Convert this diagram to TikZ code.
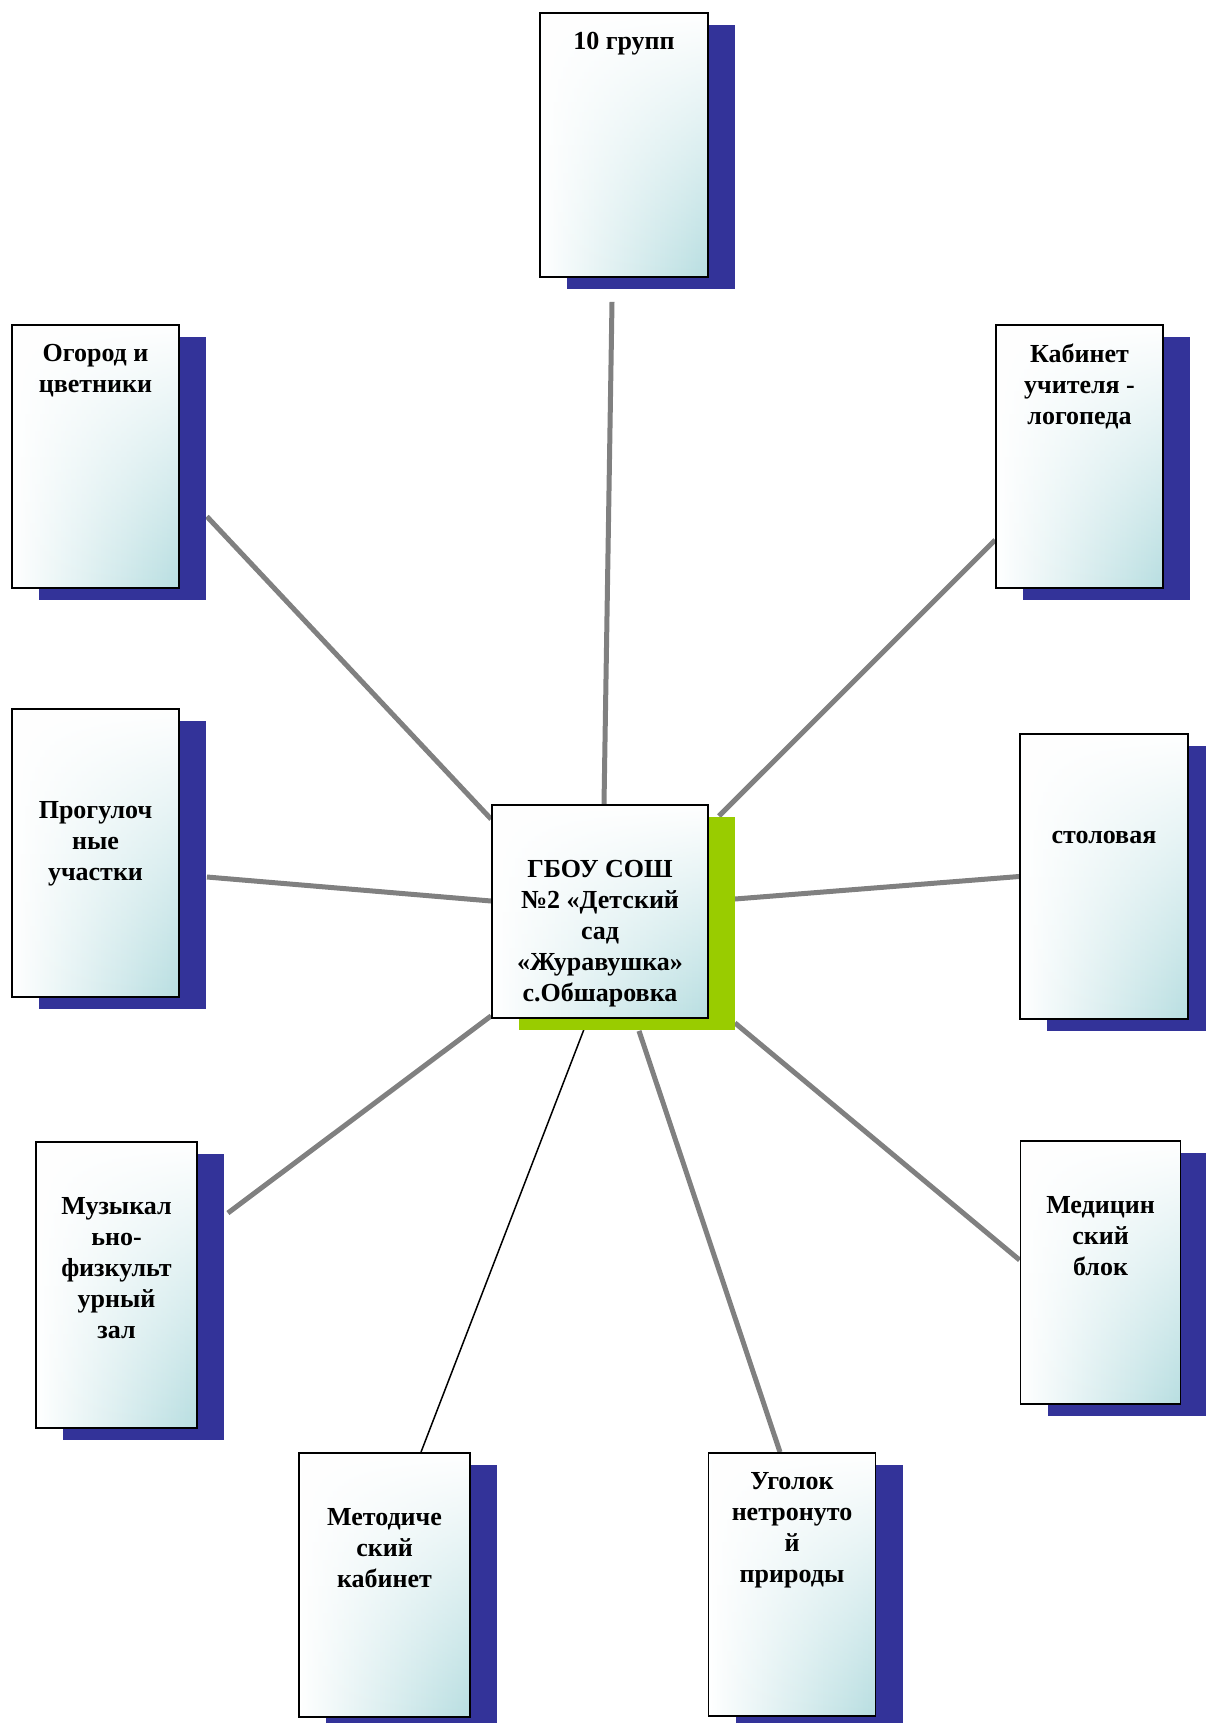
\documentclass[tikz,border=0pt]{standalone}
\usepackage{fontspec}
\setmainfont{Liberation Serif}
\usetikzlibrary{positioning,shadows,fadings,backgrounds}

\definecolor{shadowblue}{RGB}{51,51,153}
\definecolor{shadowgreen}{RGB}{153,204,0}
\definecolor{paleteal}{RGB}{184,222,225}
\definecolor{linkgray}{RGB}{128,128,128}

\tikzset{
  cardbase/.style={rectangle, draw=black, line width=1.8pt, inner sep=0pt,
    left color=white, right color=paleteal,
    path picture={\fill[white, path fading=south]
      (path picture bounding box.south west) rectangle (path picture bounding box.north east);}},
  card/.style={cardbase, general shadow={fill=shadowblue, shadow xshift=27pt, shadow yshift=-12pt}},
  hubcard/.style={cardbase, general shadow={fill=shadowgreen, shadow xshift=27pt, shadow yshift=-12pt}},
  cardtext/.style={align=center, inner sep=0pt, font=\fontsize{26}{31}\selectfont\bfseries},
  link/.style={draw=linkgray, line width=5pt},
  thinlink/.style={draw=black, line width=1.5pt}
}

\begin{document}
\begin{tikzpicture}[x=1pt,y=-1pt]
\useasboundingbox (0,0) rectangle (1205,1723);

% boxes
\node[hubcard, minimum width=216pt, minimum height=213pt] (hub) at (600,911.5) {};
\node[card, minimum width=168pt, minimum height=264pt] (g10) at (624,145) {};
\node[card, minimum width=167pt, minimum height=263pt] (ogorod) at (95.5,456.5) {};
\node[card, minimum width=167pt, minimum height=263pt] (logoped) at (1079.5,456.5) {};
\node[card, minimum width=167pt, minimum height=288pt] (progulki) at (95.5,853) {};
\node[card, minimum width=168pt, minimum height=285pt] (stolovaya) at (1104,876.5) {};
\node[card, minimum width=161pt, minimum height=286pt] (muzzal) at (116.5,1285) {};
\node[card, minimum width=160pt, minimum height=263pt] (medblok) at (1100.5,1272.5) {};
\node[card, minimum width=171pt, minimum height=264pt] (metod) at (384.5,1585) {};
\node[card, minimum width=167pt, minimum height=263pt] (ugolok) at (792,1584.5) {};

% texts
\node[cardtext, below=56pt of hub.north] (hubt) {ГБОУ СОШ\\№2 «Детский\\сад\\«Журавушка»\\с.Обшаровка};
\node[cardtext, below=20pt of g10.north] (g10t) {10 групп};
\node[cardtext, below=20pt of ogorod.north] (ogorodt) {Огород и\\цветники};
\node[cardtext, below=20pt of logoped.north] (logopedt) {Кабинет\\учителя -\\логопеда};
\node[cardtext, below=93pt of progulki.north] (progulkit) {Прогулоч\\ные\\участки};
\node[cardtext, below=98pt of stolovaya.north] (stolovayat) {столовая};
\node[cardtext, below=56pt of muzzal.north] (muzzalt) {Музыкал\\ьно-\\физкульт\\урный\\зал};
\node[cardtext, below=56pt of medblok.north] (medblokt) {Медицин\\ский\\блок};
\node[cardtext, below=56pt of metod.north] (metodt) {Методиче\\ский\\кабинет};
\node[cardtext, below=20pt of ugolok.north] (ugolokt) {Уголок\\нетронуто\\й\\природы};

% connectors
\begin{pgfonlayer}{background}
\draw[link] ([xshift=-12pt,yshift=-24pt]g10.south) -- ([xshift=4pt]hub.north);
\draw[link] ([xshift=27pt,yshift=-60pt]ogorod.east) -- ([yshift=-15pt]hub.north west);
\draw[link] ([yshift=-83.5pt]logoped.west) -- ([xshift=10pt,yshift=-12pt]hub.north east);
\draw[link] ([xshift=27pt,yshift=-24pt]progulki.east) -- ([yshift=10.5pt]hub.west);
\draw[link] (stolovaya.west) -- ([xshift=26pt,yshift=12.5pt]hub.east);
\draw[link] ([xshift=30pt,yshift=72pt]muzzal.east) -- ([yshift=3pt]hub.south west);
\draw[link] ([yshift=12.5pt]medblok.west) -- ([xshift=26pt,yshift=-4pt]hub.south east);
\draw[link] ([xshift=39pt,yshift=-12pt]hub.south) -- ([xshift=-12pt]ugolok.north);
\draw[thinlink] ([xshift=-12pt]hub.south) -- ([xshift=36.5pt]metod.north);
\end{pgfonlayer}
\end{tikzpicture}
\end{document}
